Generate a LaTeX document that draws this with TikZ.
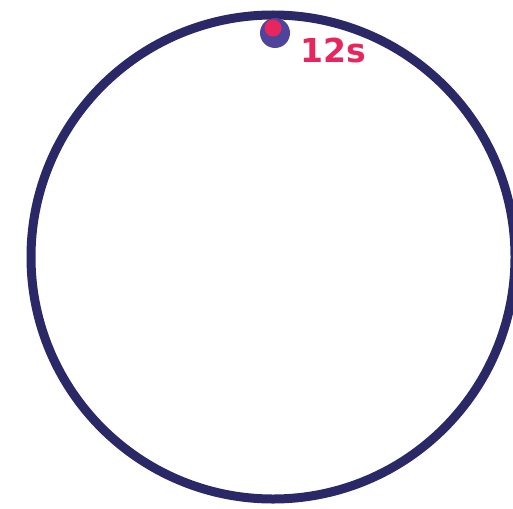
\documentclass[tikz,border=0pt]{standalone}
\usepackage{fontspec}
\setmainfont{DejaVu Sans}
\definecolor{ringnavy}{HTML}{2A2866}
\definecolor{dotpurple}{HTML}{4E449C}
\definecolor{dotpink}{HTML}{E8265E}
\begin{document}
\begin{tikzpicture}[x=1pt,y=-1pt,
  ring/.style={draw=ringnavy,line width=9pt},
  label/.style={text=dotpink,font=\bfseries\fontsize{33}{33}\selectfont,inner sep=0pt,anchor=base west}]
\useasboundingbox (0,0) rectangle (513,508);
\node[ring,circle,minimum size=484pt,inner sep=0pt] (ring) at (273,257) {};
\node[circle,fill=dotpurple,minimum size=30pt,inner sep=0pt] (outer) at (275,33) {};
\node[circle,fill=dotpink,minimum size=17pt,inner sep=0pt] (inner) at (273,28) {};
\node[label] (t) at (300,63) {12s};
\end{tikzpicture}
\end{document}
